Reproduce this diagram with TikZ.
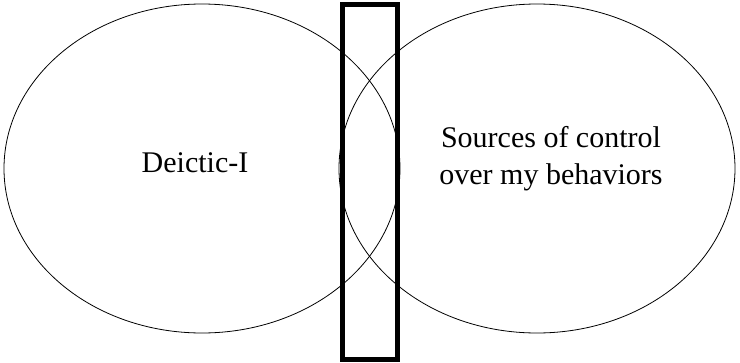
\documentclass[tikz,border=0pt]{standalone}
\usepackage{fontspec}
\setmainfont{Liberation Serif}
\usetikzlibrary{shapes.geometric}
\tikzset{
  circ/.style={ellipse,draw,line width=0.8pt,minimum width=396pt,minimum height=329pt,inner sep=0pt},
  lbl/.style={font=\fontsize{30}{37}\selectfont,align=center,inner sep=0pt},
  bar/.style={draw,line width=5pt,minimum width=55pt,minimum height=355.5pt,inner sep=0pt}
}
\begin{document}
\begin{tikzpicture}[x=1pt,y=-1pt]
	  \useasboundingbox (0,0) rectangle (740,362);
	  \node[circ] (deictic) at (202,168.5) {};
	  \node[circ] (sources) at (537,168.5) {};
	  \node[bar] (overlap) at (370,181.75) {};
	  \node[lbl] (deicticlbl) at (195,163) {Deictic-I};
	  \node[lbl] (sourceslbl) at (551,159) {Sources of control\\over my behaviors};
	\end{tikzpicture}
\end{document}
